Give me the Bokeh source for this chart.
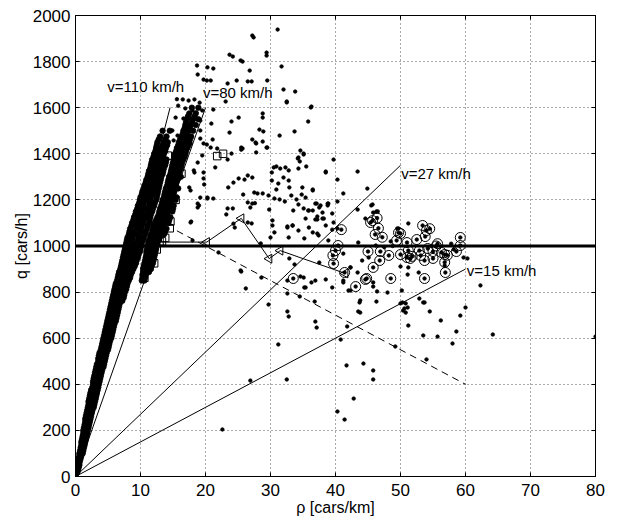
from bokeh.plotting import figure
from bokeh.models import LinearAxis, FixedTicker
from bokeh.embed import file_html
from bokeh.resources import INLINE
from bokeh.core.properties import value

FONT = "Liberation Sans"

x_ticks = [0, 10, 20, 30, 40, 50, 60, 70, 80]
y_ticks = [0, 200, 400, 600, 800, 1000, 1200, 1400, 1600, 1800, 2000]

# characteristic speeds (lines through the origin)
speeds = [110, 80, 27, 15]
speed_end_rho = [14.55, 20.0, 50.0, 60.0]
speed_labels = ["v=110 km/h", "v=80 km/h", "v=27 km/h", "v=15 km/h"]
label_rho = [4.9, 19.6, 50.1, 60.2]
label_q = [1692, 1668, 1315, 894]

capacity_q = 1000
capacity_rho = [0, 80]

wave_rho = [15.6, 60.0]
wave_q = [1066, 400]

tri_rho = [13.1, 20.2, 25.5, 29.8, 31.5, 41.5]
tri_q = [1017, 1017, 1120, 945, 980, 881]

sq_rho = [10.6, 10.8, 12.1, 12.5, 13.3, 13.8, 14.5, 14.6, 13.1, 15.4, 14.9, 16.3, 14.2, 21.8, 22.7]
sq_q = [862, 900, 925, 985, 1020, 1035, 1077, 1106, 1125, 1200, 1242, 1314, 1392, 1390, 1400]

# free-flow branch, main band: one row per flow level
main_band_q = [10, 20, 30, 40, 50, 60, 70, 80, 90, 100, 112, 125, 137, 150, 162, 175, 187, 200,
               212, 225, 237, 250, 262, 275, 287, 300, 312, 325, 337, 350, 362, 375, 387, 400,
               412, 425, 437, 450, 462, 475, 487, 500, 512, 525, 537, 550, 562, 575, 587, 600,
               612, 625, 637, 650, 662, 675, 687, 700, 712, 725, 737, 750, 762, 775, 787, 800,
               812, 825, 837, 850, 862, 875, 887, 900, 912, 925, 937, 950, 962, 975, 987, 1000,
               1012, 1025, 1037, 1050, 1062, 1075, 1087, 1100, 1112, 1125, 1137, 1150, 1162,
               1175, 1187, 1200, 1212, 1225, 1237, 1250, 1262, 1275, 1287, 1300, 1312, 1325,
               1337, 1350, 1362, 1375, 1387, 1400, 1412, 1425, 1437, 1450, 1462, 1475, 1500]
main_band_rho = [
    [0.1], [0.1, 0.3], [0.2, 0.4], [0.2, 0.5], [0.3, 0.6], [0.4, 0.6], [0.5, 0.7], [0.5, 0.8],
    [0.6, 0.9], [0.6, 0.9, 1.1], [0.7, 1.0, 1.2], [0.8, 1.1, 1.3], [0.9, 1.2, 1.4],
    [0.9, 1.2, 1.5], [1.0, 1.3, 1.6], [1.1, 1.4, 1.7], [1.2, 1.5, 1.8], [1.2, 1.5, 1.9],
    [1.3, 1.6, 2.0], [1.4, 1.7, 2.1], [1.5, 1.8, 2.2], [1.5, 1.9, 2.3], [1.6, 2.0, 2.4],
    [1.7, 2.1, 2.5], [1.8, 2.2, 2.6], [1.9, 2.3, 2.8], [2.0, 2.4, 2.9], [2.0, 2.5, 3.0],
    [2.1, 2.6, 3.1], [2.2, 2.7, 3.2], [2.3, 2.8, 3.3], [2.4, 2.9, 3.4], [2.6, 3.0, 3.5],
    [2.7, 3.1, 3.6], [2.7, 3.2, 3.7], [2.8, 3.3, 3.8], [2.9, 3.4, 3.9], [3.0, 3.5, 4.0],
    [3.1, 3.6, 4.1], [3.2, 3.7, 4.3], [3.3, 3.8, 4.4], [3.5, 4.0, 4.5], [3.5, 4.0, 4.6],
    [3.6, 4.1, 4.7], [3.7, 4.3, 4.8], [3.9, 4.4, 5.0], [4.0, 4.5, 5.1], [4.1, 4.6, 5.2],
    [4.2, 4.7, 5.3], [4.3, 4.9, 5.5], [4.4, 5.0, 5.6], [4.5, 5.1, 5.7], [4.6, 5.2, 5.8],
    [4.7, 5.3, 5.9], [4.8, 5.4, 6.0], [4.9, 5.5, 6.2], [5.0, 5.6, 6.3], [5.1, 5.7, 6.4],
    [5.2, 5.8, 6.5], [5.3, 5.9, 6.6], [5.4, 6.0, 6.7], [5.5, 6.1, 6.8], [5.6, 6.2, 6.8, 7.2],
    [5.7, 6.3, 7.0, 7.4], [5.8, 6.4, 7.0, 7.5], [5.9, 6.5, 7.1, 7.6], [6.0, 6.6, 7.2, 7.8],
    [6.1, 6.7, 7.4, 7.9], [6.2, 6.8, 7.5, 8.0], [6.4, 7.0, 7.6, 8.2], [6.5, 7.1, 7.8, 8.4],
    [6.6, 7.2, 7.9, 8.5], [6.7, 7.4, 8.0, 8.7], [6.9, 7.5, 8.2, 8.9], [7.0, 7.6, 8.3, 9.1],
    [7.1, 7.8, 8.5, 9.3], [7.2, 7.9, 8.6, 9.4], [7.3, 8.0, 8.8, 9.6], [7.4, 8.1, 8.9, 9.7],
    [7.5, 8.3, 9.1, 9.9], [7.6, 8.4, 9.2, 10.0], [7.7, 8.5, 9.3, 10.1], [7.8, 8.6, 9.4, 10.2],
    [7.9, 8.7, 9.6, 10.4], [8.0, 8.8, 9.7, 10.5], [8.2, 9.0, 9.8, 10.7], [8.3, 9.1, 10.0, 10.8],
    [8.4, 9.3, 10.1, 11.0], [8.6, 9.4, 10.2, 11.1], [8.7, 9.5, 10.4, 11.3], [8.9, 9.7, 10.5, 11.4],
    [9.0, 9.8, 10.7, 11.5], [9.2, 10.0, 10.8, 11.6], [9.3, 10.1, 11.0, 11.8], [9.5, 10.3, 11.1, 11.9],
    [9.6, 10.4, 11.3, 12.1], [9.8, 10.5, 11.4, 12.2], [9.9, 10.7, 11.5, 12.4], [10.0, 10.8, 11.6, 12.5],
    [10.2, 11.0, 11.8, 12.6], [10.3, 11.1, 11.9, 12.7], [10.5, 11.3, 12.0, 12.8], [10.6, 11.4, 12.2, 12.9],
    [10.8, 11.5, 12.3, 13.0], [10.9, 11.7, 12.4, 13.1], [11.1, 11.8, 12.5, 13.2], [11.2, 11.9, 12.7, 13.4],
    [11.3, 12.0, 12.8, 13.5], [11.5, 12.2, 12.9, 13.6], [11.6, 12.3, 13.0, 13.8], [11.7, 12.4, 13.2, 13.9],
    [11.8, 12.6, 13.3, 14.0], [12.0, 12.8, 13.5], [12.1, 12.9, 13.6], [12.3, 13.0, 13.8],
    [12.4, 13.2, 13.9], [12.5, 13.4, 14.1], [12.6, 13.6, 14.2], [12.8, 13.8], [13.0, 14.0],
    [13.4, 14.5]]

# free-flow branch, second band
second_band_q = [850, 862, 875, 887, 900, 912, 925, 937, 950, 962, 975, 987, 1000, 1012, 1025,
                 1037, 1050, 1062, 1075, 1087, 1100, 1112, 1125, 1137, 1150, 1162, 1175, 1187,
                 1200, 1212, 1225, 1237, 1250, 1262, 1275, 1287, 1300, 1312, 1325, 1337, 1350,
                 1362, 1375, 1387, 1400, 1412, 1425, 1437, 1450, 1462, 1475, 1487, 1500, 1512,
                 1525, 1537, 1550, 1562, 1575, 1600]
second_band_rho = [
    [10.2, 10.6], [10.3, 10.7], [10.3, 10.8], [10.4, 10.9, 11.3], [10.4, 11.0, 11.6],
    [10.5, 11.1, 11.7], [10.6, 11.2, 11.9], [10.7, 11.3, 12.0], [10.8, 11.4, 12.1],
    [10.9, 11.5, 12.2], [10.9, 11.6, 12.3], [11.0, 11.7, 12.4], [11.1, 11.8, 12.5],
    [11.2, 11.9, 12.6], [11.3, 12.0, 12.8], [11.5, 12.2, 12.9], [11.6, 12.3, 13.0, 13.6],
    [11.8, 12.5, 13.2, 13.8], [11.9, 12.6, 13.3, 14.0], [12.0, 12.8, 13.5],
    [12.2, 12.9, 13.6, 14.3], [12.4, 13.1, 13.8, 14.4], [12.6, 13.2, 13.9, 14.6],
    [12.8, 13.4, 14.1], [12.9, 13.5, 14.2, 14.9], [13.0, 13.7, 14.4, 15.0],
    [13.2, 13.8, 14.5, 15.1], [13.3, 14.0, 14.7], [13.4, 14.1, 14.8, 15.4],
    [13.6, 14.3, 14.9, 15.5], [13.7, 14.4, 15.0], [13.8, 14.5, 15.2], [13.9, 14.6, 15.3, 15.8],
    [14.1, 14.8, 15.4], [14.2, 14.9, 15.5], [14.3, 15.0, 15.7], [14.4, 15.1, 15.8, 16.2],
    [14.6, 15.2, 15.9], [14.7, 15.3, 16.0], [14.8, 15.5, 16.2], [14.9, 15.6, 16.3],
    [15.0, 15.7, 16.4], [15.1, 15.8, 16.6], [15.2, 16.0, 16.8], [15.3, 16.1, 16.9],
    [15.5, 16.3, 17.0], [15.6, 16.4, 17.2], [15.8, 16.6, 17.4], [15.9, 16.7, 17.5],
    [16.1, 16.9, 17.6], [16.3, 17.0, 17.8], [16.5, 17.2], [16.6, 17.4, 18.1], [16.8, 17.6],
    [16.9, 17.7, 18.5], [17.0, 17.9], [17.1, 18.1, 18.9], [17.3, 18.3], [17.5, 18.5],
    [17.9, 18.9]]

# scattered (synchronised / congested) measurements
scatter_rho = [
    27.2, 27.4, 31.1, 29.4, 29.4, 23.7, 24.2, 25.4, 25.7, 31.7, 26.8, 20.3, 21.2, 18.8, 19.7, 20.8,
    23.4, 24.8, 26.5, 27.1, 29.5, 32.0, 33.8, 32.5, 36.2, 23.1, 21.2, 25.1, 24.0, 28.8, 28.8, 35.8,
    20.9, 23.7, 28.3, 28.9, 33.7, 31.4, 27.2, 27.7, 28.8, 25.7, 29.5, 21.1, 20.2, 21.8, 18.7, 20.2,
    16.5, 17.4, 18.3, 19.1, 15.8, 16.9, 18.0, 18.6, 19.5, 15.4, 16.6, 17.7, 19.2, 16.9, 17.2, 14.9,
    15.7, 16.9, 19.2, 19.2, 19.7, 15.1, 16.5, 17.7, 15.6,
    20.8, 25.5, 25.5, 27.8, 27.8, 29.4, 24.0, 23.4, 21.5, 19.5, 18.8, 18.3, 17.5, 17.7, 18.8, 20.3,
    21.2, 19.8, 19.7, 23.5, 24.3, 25.1, 26.0, 26.5, 27.2, 28.0, 27.5, 28.8, 25.8, 26.5, 27.2, 27.6,
    29.7, 30.2, 30.5, 30.9, 31.5, 32.3, 32.8, 34.3, 35.5, 34.3, 34.6, 35.1, 30.2, 31.2, 32.0, 32.8,
    32.9, 30.9, 30.6, 31.4, 32.2, 33.2, 34.8, 36.5, 34.9, 34.0, 34.3, 35.1, 35.8, 36.5, 37.1, 37.5,
    38.5, 38.8, 33.5, 29.8, 30.3, 30.3, 30.0, 30.6, 32.6, 32.8, 33.4, 34.3, 37.2, 38.2, 37.2, 23.4,
    24.2, 23.2, 26.5, 27.1, 24.5, 17.8, 18.0, 17.7, 18.8, 20.3, 19.7, 18.2, 19.0, 19.2, 24.3, 26.9,
    32.5, 36.3, 35.1, 34.2, 34.5, 39.7, 38.5, 43.4, 40.3, 41.2, 44.9, 40.3, 43.4, 45.7, 46.3, 39.5,
    38.9, 37.2, 38.0, 36.9, 39.7, 40.3, 49.7, 51.2, 32.6, 33.4,
    35.4, 36.5, 36.9, 37.7, 38.8, 38.0, 38.5, 35.9, 35.4, 35.9, 39.5, 36.5, 37.4, 35.2, 38.9, 45.5,
    45.8, 46.5, 44.6, 49.5, 48.5, 43.5, 46.2, 59.7, 60.3, 62.3, 52.8, 50.0, 51.2, 43.4, 44.1, 45.1,
    42.3, 41.2, 36.9, 35.4, 39.5, 42.3, 45.8, 48.0, 50.3, 51.1, 50.8, 43.7, 43.8, 59.2, 56.2, 51.2,
    53.5,
    22.0, 25.5, 28.6, 26.2, 29.7, 32.6, 32.8, 31.2, 32.5, 26.9, 22.6, 28.5, 32.9, 33.7, 34.6, 35.2,
    36.3, 37.5, 38.5, 41.2, 42.0, 32.6, 34.5, 36.9, 37.1, 41.8, 40.8, 43.5, 41.7, 42.8, 40.3, 41.4,
    41.2, 25.4, 32.6, 35.1,
    46.4, 50.2, 45.8, 43.8, 46.3, 50.0, 50.8, 50.6, 50.4, 52.9, 53.7, 54.5, 60.0, 58.6, 58.0, 55.7,
    53.5, 49.2, 54.0, 64.2, 80.0, 44.3, 45.8, 45.8, 36.8, 51.1, 56.8, 42.3, 47.5, 57.8, 58.2, 48.8]
scatter_q = [
    1913, 1905, 1939, 1839, 1826, 1830, 1822, 1805, 1800, 1779, 1761, 1775, 1770, 1744, 1722, 1718,
    1705, 1718, 1714, 1714, 1718, 1679, 1670, 1627, 1601, 1627, 1592, 1557, 1540, 1575, 1557, 1540,
    1531, 1492, 1505, 1497, 1497, 1479, 1462, 1449, 1453, 1423, 1427, 1462, 1440, 1423, 1783, 1718,
    1636, 1631, 1636, 1622, 1609, 1597, 1588, 1579, 1588, 1557, 1553, 1553, 1544, 1523, 1510, 1501,
    1479, 1479, 1501, 1466, 1445, 1458, 1449, 1445, 1637,
    1427, 1427, 1418, 1445, 1406, 1427, 1401, 1375, 1341, 1393, 1362, 1319, 1254, 1241, 1184, 1206,
    1206, 1267, 1293, 1254, 1275, 1293, 1288, 1306, 1297, 1228, 1232, 1228, 1223, 1189, 1184, 1186,
    1219, 1319, 1341, 1345, 1336, 1341, 1328, 1336, 1345, 1384, 1414, 1397, 1284, 1271, 1297, 1284,
    1254, 1245, 1206, 1202, 1193, 1219, 1223, 1245, 1254, 1202, 1180, 1163, 1154, 1154, 1184, 1167,
    1319, 1184, 1154, 1158, 1111, 1089, 1037, 1059, 1080, 1037, 1089, 1067, 1115, 1119, 1054, 1163,
    1163, 1137, 1102, 1098, 1080, 1106, 1024, 1102, 1167, 1210, 1319, 1328, 1176, 1210, 1097, 1167,
    1623, 1605, 1401, 1380, 1367, 1375, 1323, 1323, 1288, 1228, 1249, 1193, 1158, 1180, 1150, 1141,
    1184, 1128, 1119, 1115, 1102, 1076, 1076, 1098, 1085, 1089,
    1210, 1241, 1184, 1176, 1176, 1145, 1089, 1154, 1119, 1080, 1071, 1059, 1046, 1033, 1024, 1176,
    1145, 1150, 1119, 1076, 1020, 1015, 1002, 950, 946, 829, 885, 911, 907, 885, 937, 950,
    907, 850, 850, 820, 820, 807, 842, 798, 755, 733, 711, 755, 711, 698, 677, 655,
    755,
    972, 889, 863, 816, 746, 716, 694, 573, 421, 416, 204, 1011, 946, 920, 868, 820,
    842, 928, 855, 842, 807, 794, 781, 672, 646, 651, 594, 716, 482, 338, 282, 247,
    967, 894, 850, 863,
    803, 807, 824, 764, 759, 751, 751, 729, 720, 772, 755, 716, 733, 629, 577, 607,
    612, 564, 508, 616, 607, 490, 460, 421, 759, 876, 915, 907, 995, 1010, 985, 1000]

# measurements highlighted with circles
circ_rho = [40.9, 45.4, 46.4, 46.6, 46.1, 47.2, 50.0, 49.7, 53.4, 54.0, 54.5, 53.8, 52.5, 51.0,
            49.4, 59.2, 59.2, 55.7, 40.4, 40.0, 39.6, 39.7, 41.4, 45.0, 46.9, 48.2, 46.8, 45.8,
            44.8, 43.1, 48.5, 50.0, 51.2, 51.5, 51.0, 51.8, 52.9, 53.1, 53.7, 53.7, 54.2, 55.0,
            55.0, 56.3, 56.8, 57.2, 56.8, 56.9, 58.6, 33.5, 44.6, 45.7, 55.5]
circ_q = [1071, 1102, 1121, 1077, 1050, 1038, 1054, 1058, 1089, 1067, 1075, 1041, 1028, 1015,
          1024, 1037, 1002, 1010, 1002, 980, 959, 924, 885, 976, 976, 959, 937, 907,
          859, 824, 859, 963, 980, 946, 950, 955, 980, 959, 937, 859, 989, 976,
          946, 972, 963, 960, 929, 885, 976, 859, 855, 1110, 1000]

band_rho = [r for row in main_band_rho for r in row]
band_q = [q for q, row in zip(main_band_q, main_band_rho) for _ in row]
band_rho += [r for row in second_band_rho for r in row]
band_q += [q for q, row in zip(second_band_q, second_band_rho) for _ in row]

dot_rho = scatter_rho + circ_rho
dot_q = scatter_q + circ_q

p = figure(width=620, height=526, x_range=(0, 80), y_range=(0, 2000),
           output_backend="svg", toolbar_location=None,
           min_border_left=75, min_border_right=25, min_border_top=15, min_border_bottom=50,
           background_fill_color="white", border_fill_color="white")
p.outline_line_color = "black"
p.outline_line_width = 1

for ax in (p.xaxis[0], p.yaxis[0]):
    ax.major_label_text_font = FONT
    ax.major_label_text_font_size = "17px"
    ax.major_label_text_color = "black"
    ax.axis_label_text_font = FONT
    ax.axis_label_text_font_size = "16px"
    ax.axis_label_text_font_style = "normal"
    ax.axis_label_text_color = "black"
    ax.major_tick_in = 4
    ax.major_tick_out = 0
    ax.minor_tick_line_color = None
    ax.axis_line_color = "black"
    ax.major_tick_line_color = "black"
    ax.major_label_standoff = 7
    ax.axis_label_standoff = 0

p.xaxis[0].ticker = FixedTicker(ticks=x_ticks)
p.yaxis[0].ticker = FixedTicker(ticks=y_ticks)
p.xaxis[0].axis_label = "ρ [cars/km]"
p.yaxis[0].axis_label = "q [cars/h]"
p.yaxis[0].major_label_standoff = 5

for loc, ticks in (("right", y_ticks), ("above", x_ticks)):
    ax = LinearAxis(ticker=FixedTicker(ticks=ticks),
                    major_label_overrides={t: "" for t in ticks},
                    major_label_standoff=0, major_tick_in=4, major_tick_out=0,
                    minor_tick_line_color=None, axis_line_color="black")
    p.add_layout(ax, loc)

p.xgrid.ticker = FixedTicker(ticks=x_ticks)
p.ygrid.ticker = FixedTicker(ticks=y_ticks)
for g in (p.xgrid[0], p.ygrid[0]):
    g.grid_line_color = "#555555"
    g.grid_line_dash = "1 3"
    g.grid_line_width = 1

# speed lines
for v, r_end in zip(speeds, speed_end_rho):
    p.line([0, r_end], [0, v * r_end], line_color="black", line_width=1)

p.text(x=label_rho, y=label_q, text=speed_labels, text_font=value(FONT),
       text_font_size="15px", text_baseline="middle", text_align="left", text_color="black")

# capacity line
p.line(capacity_rho, [capacity_q, capacity_q], line_color="black", line_width=3)

# wave line
p.line(wave_rho, wave_q, line_color="black", line_width=1, line_dash="7 5")

# data points
p.scatter(band_rho, band_q, marker="circle", size=5.5, fill_color="black",
          line_color="black", line_width=0.8)
p.scatter(dot_rho, dot_q, marker="circle", size=3.5, fill_color="black",
          line_color="black", line_width=0.8)

p.scatter(circ_rho, circ_q, marker="circle", size=10, fill_color=None, line_color="black", line_width=1)
p.scatter(sq_rho, sq_q, marker="square", size=7.5, fill_color=None, line_color="black", line_width=1)

p.line(tri_rho, tri_q, line_color="black", line_width=1)
p.scatter(tri_rho, tri_q, marker="triangle", size=9, angle=90, angle_units="deg",
          fill_color=None, line_color="black", line_width=1)

open("out.html", "w").write(file_html(p, INLINE))
